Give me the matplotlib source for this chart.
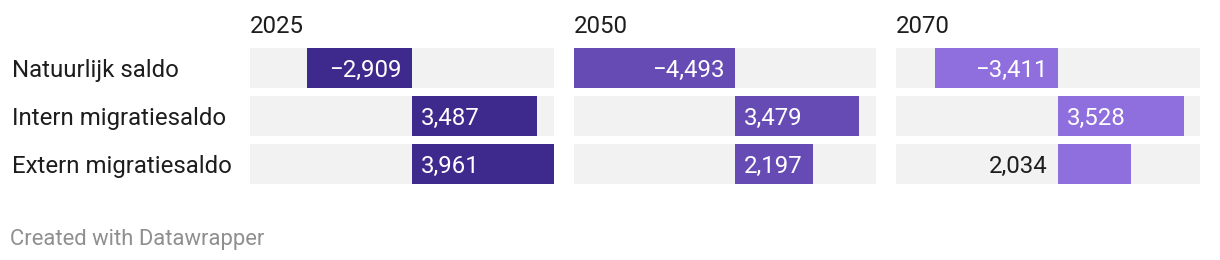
import matplotlib.pyplot as plt

plt.rcParams['font.family'] = ['Roboto', 'DejaVu Sans']

# data
categories = ['Natuurlijk saldo', 'Intern migratiesaldo', 'Extern migratiesaldo']
years = ['2025', '2050', '2070']
values = {
    '2025': [-2909, 3487, 3961],
    '2050': [-4493, 3479, 2197],
    '2070': [-3411, 3528, 2034],
}
colors = ['#3e2a8c', '#674bb5', '#8f6fdd']

W, H = 1220, 260
fig = plt.figure(figsize=(W / 100, H / 100), dpi=100)

# panel extents in pixels
panels = [(250, 554), (574, 876), (896, 1200)]
top_px, bottom_px = 48, 184
row_h = 48
bar_px = 40
fs = 17.3

xmin = min(min(v) for v in values.values())
xmax = max(max(v) for v in values.values())


def fmt(v):
    s = f'{abs(v):,}'
    return ('\u2212' + s) if v < 0 else s


def ypx(y):
    return 1 - y / H


for (x0, x1), year, col in zip(panels, years, colors):
    ax = fig.add_axes([x0 / W, ypx(bottom_px), (x1 - x0) / W, (bottom_px - top_px) / H])
    ys = range(len(categories))
    h = bar_px / row_h
    ax.barh(ys, [xmax - xmin] * len(categories), left=xmin, height=h, color='#f2f2f2', linewidth=0)
    ax.barh(ys, values[year], height=h, color=col, linewidth=0)
    ax.set_xlim(xmin, xmax)
    ax.set_ylim(len(categories) - 1 + h / 2, -h / 2)
    ax.axis('off')

    px = (xmax - xmin) / (x1 - x0)  # data units per pixel
    zero = x0 + (0 - xmin) / px
    for i, v in enumerate(values[year]):
        base = ypx(top_px + bar_px / 2 + i * row_h + 9)
        bar_w = abs(v) / px
        if v < 0:
            fig.text((zero - 10) / W, base, fmt(v), ha='right', va='baseline', color='white', fontsize=fs)
        elif bar_w > 75:
            fig.text((zero + 9) / W, base, fmt(v), ha='left', va='baseline', color='white', fontsize=fs)
        else:
            # label doesn't fit inside -> put it on the other side of zero
            fig.text((zero - 10) / W, base, fmt(v), ha='right', va='baseline', color='#1d1d1d', fontsize=fs)

    fig.text(x0 / W, ypx(33), year, ha='left', va='baseline', fontsize=fs, color='#1d1d1d')

for i, cat in enumerate(categories):
    base = top_px + bar_px / 2 + i * row_h + 9
    fig.text(12 / W, ypx(base), cat, ha='left', va='baseline', fontsize=fs, color='#1d1d1d')

fig.text(10 / W, ypx(245), 'Created with Datawrapper', ha='left', va='baseline',
         fontsize=15.8, color='#8f8f8f')

fig.savefig('out.png', dpi=100)
